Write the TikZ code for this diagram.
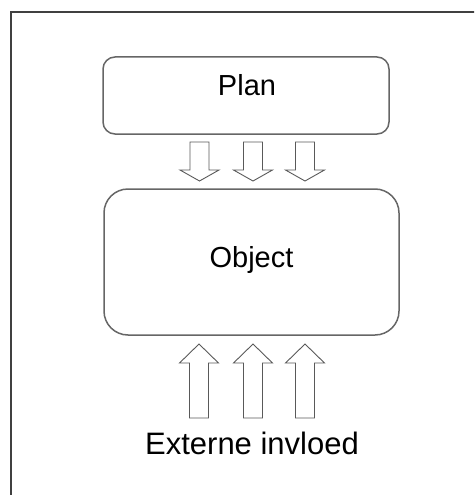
\documentclass[tikz,border=0pt]{standalone}
\usepackage{fontspec}
\setmainfont{Liberation Sans}
\begin{document}
\begin{tikzpicture}[x=1pt,y=-1pt,
  boxline/.style={draw=black!60, line width=1.5pt, rounded corners=#1},
  blockarrow/.style={draw=black!65, line width=0.9pt, fill=white, line join=miter},
  label/.style={anchor=base, inner sep=0pt, font=\fontsize{29}{34}\selectfont},
  biglabel/.style={anchor=base, inner sep=0pt, font=\fontsize{31}{36}\selectfont}]
\useasboundingbox (0,0) rectangle (474,495);
\clip (0,0) rectangle (474,495);
\draw[draw=black!75, line width=1.3pt] (11,500) -- (11,12) -- (480,12);
% boxes
\draw[boxline=12pt] (103,57) rectangle (389,134);
\coordinate (planc) at (246,95);
\draw[boxline=24pt] (104,189) rectangle (399,335);
\node[label] (plan) at (247,95) {Plan};
\node[label] (object) at (251.5,267) {Object};
\node[biglabel] (ext) at (252,454) {Externe invloed};
% down arrows
\foreach \c/\n in {199.5/d1, 253/d2, 305/d3}{
  \draw[blockarrow] (\c-9.5,142) -- (\c+9.5,142) -- (\c+9.5,170) -- (\c+19.5,170) -- (\c,181)
    -- (\c-19.5,170) -- (\c-9.5,170) -- cycle;
}
% up arrows
\foreach \c/\n in {199/u1, 253/u2, 305/u3}{
  \draw[blockarrow] (\c-9.5,418) -- (\c+9.5,418) -- (\c+9.5,363) -- (\c+19.5,363) -- (\c,344)
    -- (\c-19.5,363) -- (\c-9.5,363) -- cycle;
}
\end{tikzpicture}
\end{document}
